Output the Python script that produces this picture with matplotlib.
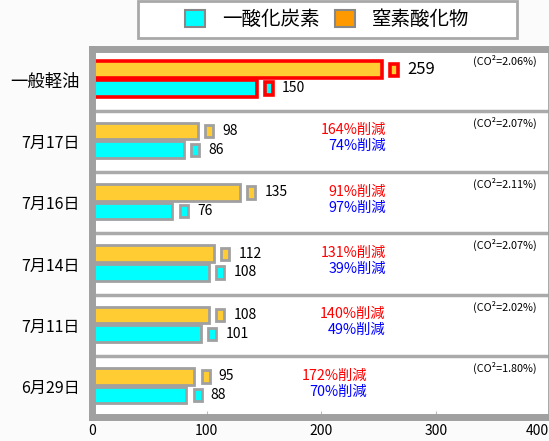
import matplotlib
matplotlib.use("Agg")
import matplotlib.pyplot as plt
from matplotlib.patches import Patch, Rectangle
import numpy as np

plt.rcParams['font.family'] = ['Noto Sans CJK JP', 'DejaVu Sans']

# data
categories = ['一般軽油', '7月17日', '7月16日', '7月14日', '7月11日', '6月29日']
nox = [259, 98, 135, 112, 108, 95]
co = [150, 86, 76, 108, 101, 88]
nox_cut = ['', '164%削減', '91%削減', '131%削減', '140%削減', '172%削減']
co_cut = ['', '74%削減', '97%削減', '39%削減', '49%削減', '70%削減']
co2 = ['2.06', '2.07', '2.11', '2.07', '2.02', '1.80']
xticks = [0, 100, 200, 300]

CYAN = '#00ffff'
ORANGE = '#ffcc33'
GRAY = '#a0a0a0'

fig = plt.figure(figsize=(5.49, 4.41), dpi=100, facecolor='#fbfbfb')
ax = fig.add_axes([0.1676, 0.0533, 0.8324, 0.8345])
ax.set_facecolor('white')

n = len(categories)
y = np.arange(n)
y_nox = y + 0.33
y_co = y + 0.635
edge = ['red'] + [GRAY] * (n - 1)
lw = [2.6] + [2.0] * (n - 1)

# the original draws each bar a little short, with a small marker box at the value
trim = 6
box_w = 7
nox_a = np.array(nox)
co_a = np.array(co)

ax.barh(y_nox, nox_a - trim, height=0.27, color=ORANGE, edgecolor=edge, linewidth=lw, zorder=2)
ax.barh(y_co, co_a - trim, height=0.27, color=CYAN, edgecolor=edge, linewidth=lw, zorder=2)
ax.barh(y_nox, box_w, left=nox_a + 4 - box_w / 2, height=0.2, color=ORANGE,
        edgecolor=edge, linewidth=lw, zorder=2)
ax.barh(y_co, box_w, left=co_a + 4 - box_w / 2, height=0.2, color=CYAN,
        edgecolor=edge, linewidth=lw, zorder=2)

pct_right = [256, 256, 256, 256, 256, 240]
for i in range(n):
    fs = 12 if i == 0 else 10
    ax.text(nox[i] + 4 + box_w / 2 + 8, y_nox[i], str(nox[i]), va='center', ha='left', fontsize=fs)
    ax.text(co[i] + 4 + box_w / 2 + 8, y_co[i], str(co[i]), va='center', ha='left', fontsize=10)
    if nox_cut[i]:
        ax.text(pct_right[i], y[i] + 0.32, nox_cut[i], color='red', ha='right', va='center', fontsize=10.3)
        ax.text(pct_right[i], y[i] + 0.58, co_cut[i], color='blue', ha='right', va='center', fontsize=10.3)
    ax.text(388, y[i] + 0.19, '(CO²=' + co2[i] + '%)', ha='right', va='center', fontsize=7.8)

for b in range(1, n):
    ax.axhline(b, color='#aaaaaa', lw=2.5, zorder=1.5)

ax.set_xlim(0, 398.4)
ax.set_ylim(n, 0)
ax.set_yticks(y + 0.5)
ax.set_yticklabels(categories)
for lab, fs in zip(ax.get_yticklabels(), [12.5] + [11.5] * (n - 1)):
    lab.set_fontsize(fs)
ax.tick_params(axis='y', length=0, pad=9)
ax.set_xticks(xticks)
ax.tick_params(axis='x', direction='in', length=4, color='#bbbbbb', labelsize=10, pad=5)
# the 400 label sits at the very edge of the picture
ax.annotate('400', xy=(1.0, 0), xycoords='axes fraction', xytext=(0, -5),
            textcoords='offset points', ha='right', va='top', fontsize=10, annotation_clip=False)

for side, w in [('left', 5), ('bottom', 5), ('top', 5), ('right', 2)]:
    ax.spines[side].set_color(GRAY)
    ax.spines[side].set_linewidth(w)

# legend box at the top
fig.add_artist(Rectangle((138 / 549, 1 - 38 / 441), 379 / 549, 37 / 441, transform=fig.transFigure,
                         facecolor='white', edgecolor='#a8a8a8', linewidth=2))
handles = [Patch(facecolor=CYAN, edgecolor='#888888', linewidth=1.5),
           Patch(facecolor='#ff9900', edgecolor='#888888', linewidth=1.5)]
fig.legend(handles, ['一酸化炭素', '窒素酸化物'], loc='center',
           bbox_to_anchor=(327.5 / 549, 1 - 19.5 / 441), ncol=2, fontsize=14, frameon=False,
           handlelength=1.0, handleheight=1.0, columnspacing=0.8, handletextpad=0.9)

fig.savefig('out.png', dpi=100, facecolor=fig.get_facecolor())
